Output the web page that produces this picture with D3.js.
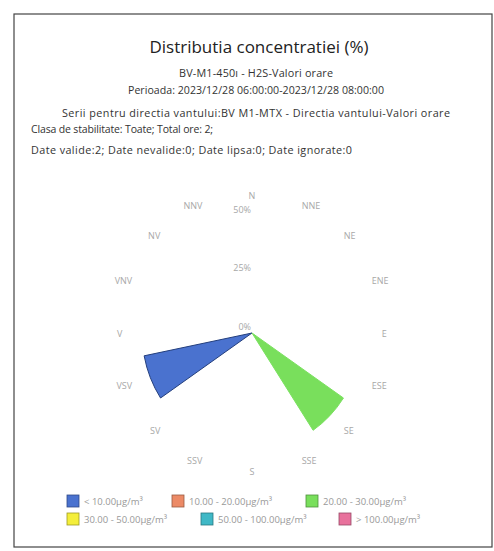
<!DOCTYPE html>
<html>
<head>
<meta charset="utf-8">
<script src="https://cdn.jsdelivr.net/npm/d3@7"></script>
<style>
  html, body { margin: 0; padding: 0; background: #fff; }
  svg { display: block; font-family: "Open Sans", "Noto Sans", sans-serif; }
</style>
</head>
<body>
<script>
// ---- data ----
const directions = ["N","NNE","NE","ENE","E","ESE","SE","SSE","S","SSV","SV","VSV","V","VNV","NV","NNV"];
const classNames = ["< 10.00µg/m³","10.00 - 20.00µg/m³","20.00 - 30.00µg/m³","30.00 - 50.00µg/m³","50.00 - 100.00µg/m³","> 100.00µg/m³"];
const classColors = ["#4a72cf","#ec8a66","#79df5c","#f4ee3a","#3fb8c6","#e8719c"];
// percentage per direction, one array per concentration class
const class1 = [0,0,0,0,0,0,0,0,0,0,0,50,0,0,0,0];
const class2 = [0,0,0,0,0,0,0,0,0,0,0,0,0,0,0,0];
const class3 = [0,0,0,0,0,0,50,0,0,0,0,0,0,0,0,0];
const class4 = [0,0,0,0,0,0,0,0,0,0,0,0,0,0,0,0];
const class5 = [0,0,0,0,0,0,0,0,0,0,0,0,0,0,0,0];
const class6 = [0,0,0,0,0,0,0,0,0,0,0,0,0,0,0,0];
const yTicks = [0, 25, 50];
const yTickLabels = ["0%","25%","50%"];
const titleText = "Distributia concentratiei (%)";
const subtitleLines = [
  "BV-M1-450ı - H2S-Valori orare",
  "Perioada: 2023/12/28 06:00:00-2023/12/28 08:00:00",
  "Serii pentru directia vantului:BV M1-MTX - Directia vantului-Valori orare"
];
const infoLines = [
  "Clasa de stabilitate: Toate; Total ore: 2;",
  "Date valide:2; Date nevalide:0; Date lipsa:0; Date ignorate:0"
];

const W = 494, H = 551;
const svg = d3.select("body").append("svg").attr("width", W).attr("height", H);

// frame
svg.append("rect").attr("x", 14).attr("y", 14).attr("width", 478).attr("height", 533)
  .attr("fill", "#fff").attr("stroke", "#444").attr("stroke-width", 1.2);

// titles
svg.append("text").attr("x", 259).attr("y", 53).attr("text-anchor", "middle")
  .attr("font-size", 17).attr("fill", "#222").text(titleText);
const subSizes = [10.8, 10.6, 10.8];
const subLens = [154, 256, 388];
subtitleLines.forEach((t, i) => {
  svg.append("text").attr("x", 256).attr("y", [77, 94, 117][i]).attr("text-anchor", "middle")
    .attr("font-size", subSizes[i]).attr("fill", "#333")
    .attr("textLength", subLens[i]).attr("lengthAdjust", "spacing").text(t);
});
const infoSizes = [10.5, 10.8];
const infoLens = [182, 321];
infoLines.forEach((t, i) => {
  svg.append("text").attr("x", 31).attr("y", [133, 154][i])
    .attr("font-size", infoSizes[i]).attr("fill", "#333")
    .attr("textLength", infoLens[i]).attr("lengthAdjust", "spacing").text(t);
});

// polar chart
const cx = 252, cy = 333, xs = 0.94;
const r = d3.scaleLinear().domain([0, 50]).range([0, 117]);
const angle = d3.scaleBand().domain(directions).range([-Math.PI / 16, 2 * Math.PI - Math.PI / 16]).padding(0);

const series = [class1, class2, class3, class4, class5, class6];
const table = directions.map((d, i) => {
  const o = { dir: d };
  series.forEach((s, k) => o["c" + k] = s[i]);
  return o;
});
const keys = series.map((s, k) => "c" + k);
const stacked = d3.stack().keys(keys)(table);

const g = svg.append("g").attr("transform", `translate(${cx},${cy}) scale(${xs},1)`);
const arc = d3.arc();
stacked.forEach((layer, k) => {
  g.selectAll(null).data(layer.filter(d => d[1] - d[0] > 0)).enter().append("path")
    .attr("d", d => arc({
      innerRadius: r(d[0]), outerRadius: r(d[1]),
      startAngle: angle(d.data.dir), endAngle: angle(d.data.dir) + angle.bandwidth()
    }))
    .attr("fill", classColors[k])
    .attr("stroke", k === 0 ? "#243f7d" : "#7be060")
    .attr("stroke-width", 1)
    .attr("vector-effect", "non-scaling-stroke");
});

// direction labels
const labR = 138;
directions.forEach((d, i) => {
  const a = angle(d) + angle.bandwidth() / 2;
  const x = cx + labR * xs * Math.sin(a);
  const y = cy - labR * Math.cos(a);
  let anchor = "middle";
  if (i > 0 && i < 8) anchor = "start";
  if (i > 8) anchor = "end";
  svg.append("text").attr("x", x).attr("y", y).attr("text-anchor", anchor)
    .attr("dominant-baseline", "central").attr("font-size", 9).attr("fill", "#a8a8a8").text(d);
});

// radial tick labels
yTicks.forEach((t, i) => {
  svg.append("text").attr("x", cx - 1).attr("y", cy - r(t) - 7).attr("text-anchor", "end")
    .attr("dominant-baseline", "central").attr("font-size", 9).attr("fill", "#a8a8a8").text(yTickLabels[i]);
});

// legend
const legX = [67, 172, 306, 67, 201, 339];
const legY = [501, 501, 501, 519, 519, 519];
classNames.forEach((n, k) => {
  svg.append("rect").attr("x", legX[k]).attr("y", legY[k] - 6).attr("width", 12).attr("height", 12)
    .attr("fill", classColors[k]).attr("stroke", d3.color(classColors[k]).darker(1.2)).attr("stroke-width", 0.8);
  svg.append("text").attr("x", legX[k] + 17).attr("y", legY[k]).attr("dominant-baseline", "central")
    .attr("font-size", 9.5).attr("fill", "#999").text(n);
});
</script>
</body>
</html>
